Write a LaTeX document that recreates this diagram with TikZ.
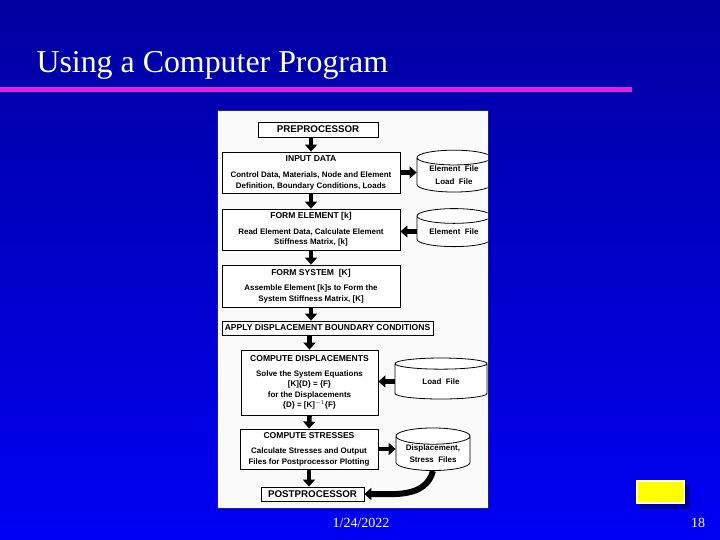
\documentclass[tikz,border=0pt]{standalone}
\usepackage{fontspec}
\setmainfont{Liberation Serif}
\setsansfont{Liberation Sans}
\usepackage{tikz}
\usetikzlibrary{arrows.meta,positioning,shapes.geometric}
\definecolor{slidetop}{HTML}{0000A0}
\definecolor{slidebottom}{HTML}{0000F4}
\definecolor{rulepink}{HTML}{E41EE4}
\definecolor{paneledge}{HTML}{20208A}
\definecolor{panelwhite}{HTML}{FAFAFA}
\definecolor{btnyellow}{HTML}{FFFF00}
\definecolor{btnshadow}{HTML}{0000A0}
\newcommand{\headfont}{\sffamily\bfseries\fontsize{8.6}{10}\selectfont}
\newcommand{\bodyfont}{\sffamily\bfseries\fontsize{8}{10.5}\selectfont}
\tikzset{
  proc box/.style  = {draw=black, line width=0.8bp, fill=white, inner sep=0pt,
                      align=center, font=\headfont},
  info box/.style  = {proc box, font=\bodyfont},
  end box/.style   = {proc box, font=\sffamily\bfseries\fontsize{9.8}{11}\selectfont},
  file drum/.style = {cylinder, shape border rotate=90, draw=black,
                      line width=0.8bp, fill=white, aspect=0.3, inner sep=0pt,
                      align=center, font=\bodyfont},
  flow/.style      = {line width=4.6bp, -{Triangle[length=7bp,width=12bp]}},
}
\begin{document}
\begin{tikzpicture}[x=1bp, y=-1bp]
  \shade[top color=slidetop, bottom color=slidebottom] (0,0) rectangle (720,540);
  \useasboundingbox (0,0) rectangle (720,540);
  \node[anchor=base west, white, font=\fontsize{32}{36}\selectfont] (title) at (33,73)
    {Using a Computer Program};
  \fill[rulepink] (0,87) rectangle (632,92);

  \fill[panelwhite, draw=paneledge, line width=0.8bp] (217,110) rectangle (488,508);

  \node[end box, minimum width=120bp, minimum height=15bp] (pre) at (318,129.5) {PREPROCESSOR};
  \node[info box, minimum width=178bp, minimum height=41bp] (indata) at (311,172.5)
    {\headfont INPUT DATA\\[6bp]Control Data, Materials, Node and Element\\Definition, Boundary Conditions, Loads};
  \node[info box, minimum width=178bp, minimum height=41bp] (formel) at (311,229.5)
    {\headfont FORM ELEMENT [k]\\[5bp]Read Element Data, Calculate Element\\Stiffness Matrix, [k]};
  \node[info box, minimum width=178bp, minimum height=42bp] (formsys) at (311,286)
    {\headfont FORM SYSTEM\ \ [K]\\[5bp]Assemble Element [k]s to Form the\\System Stiffness Matrix, [K]};
  \node[proc box, minimum width=211bp, minimum height=14bp] (bcond) at (327.5,328)
    {APPLY DISPLACEMENT BOUNDARY CONDITIONS};
  \node[info box, minimum width=137bp, minimum height=65bp] (compdisp) at (309.5,382.5)
    {\headfont COMPUTE DISPLACEMENTS\\[4bp]Solve the System Equations\\{[K]}\{D\} = \{F\}\\
     for the Displacements\\\{D\} = {[K]}$^{-1}$\{F\}};
  \node[info box, minimum width=138bp, minimum height=40bp] (compstr) at (309,449)
    {\headfont COMPUTE STRESSES\\[5bp]Calculate Stresses and Output\\Files for Postprocessor Plotting};
  \node[end box, minimum width=103bp, minimum height=14bp] (post) at (312.5,494) {POSTPROCESSOR};

  \begin{scope}
    \clip (217,110) rectangle (487.5,508);
    \node[file drum, minimum width=74bp, minimum height=38bp] (elload) at (454,175)
      {Element\ \ File\\[3bp]Load\ \ File};
    \node[file drum, minimum width=74bp, minimum height=38bp] (elfile) at (454,231.5)
      {Element\ \ File};
    \node[file drum, minimum width=92bp, minimum height=41bp] (loadfile) at (441,381.5)
      {Load\ \ File};
    \node[file drum, minimum width=74bp, minimum height=38bp] (dispfile) at (433,453.5)
      {Displacement,\\[1.5bp]Stress\ \ Files};
  \end{scope}

  \draw[flow] (indata.north |- pre.south) -- (indata.north);
  \draw[flow] (indata.south) -- (formel.north);
  \draw[flow] (formel.south) -- (formsys.north);
  \draw[flow] (formsys.south) -- (formsys.south |- bcond.north);
  \draw[flow] (compdisp.north |- bcond.south) -- (compdisp.north);
  \draw[flow] (compdisp.south) -- (compstr.north);
  \draw[flow] (compstr.south) -- (compstr.south |- post.north);
  \draw[flow] (indata.east) -- (indata.east -| elload.west);
  \draw[flow] (elfile.west) -- (elfile.west -| formel.east);
  \draw[flow] (loadfile.west) -- (loadfile.west -| compdisp.east);
  \draw[flow] (compstr.east) -- (compstr.east -| dispfile.west);
  \draw[flow, line width=6bp] (dispfile.south) to[out=-105, in=0] (post.east);

  \node[white, font=\fontsize{14}{16}\selectfont] (date) at (361,523) {1/24/2022};
  \node[white, font=\fontsize{14}{16}\selectfont] (page) at (698,523) {18};
  \fill[btnshadow] (640,485) rectangle (690,509);
  \fill[white] (636,480) rectangle (685,504);
  \fill[btnyellow] (638,482) rectangle (683,502);
\end{tikzpicture}
\end{document}
